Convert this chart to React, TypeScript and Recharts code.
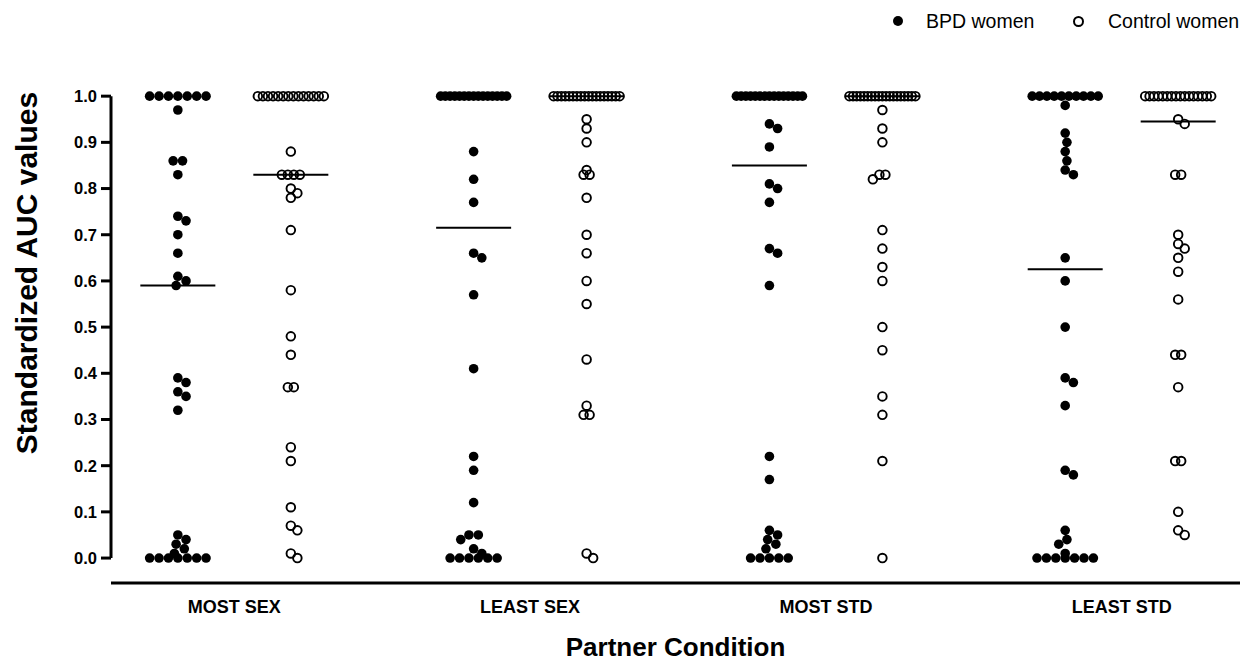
import { ScatterChart, Scatter, XAxis, YAxis, ReferenceLine } from 'recharts'

const conditions = ['MOST SEX', 'LEAST SEX', 'MOST STD', 'LEAST STD']

const bpdMostSex = [1, 1, 1, 1, 1, 1, 1, 0.97, 0.86, 0.86, 0.83, 0.74, 0.73, 0.7, 0.66, 0.61, 0.6, 0.59, 0.39, 0.38, 0.36, 0.35, 0.32, 0.05, 0.04, 0.03, 0.02, 0.01, 0, 0, 0, 0, 0, 0, 0]
const controlMostSex = [1, 1, 1, 1, 1, 1, 1, 1, 1, 1, 1, 1, 1, 1, 0.88, 0.83, 0.83, 0.83, 0.83, 0.8, 0.79, 0.78, 0.71, 0.58, 0.48, 0.44, 0.37, 0.37, 0.24, 0.21, 0.11, 0.07, 0.06, 0.01, 0]
const bpdLeastSex = [1, 1, 1, 1, 1, 1, 1, 1, 1, 1, 1, 1, 1, 1, 1, 0.88, 0.82, 0.77, 0.66, 0.65, 0.57, 0.41, 0.22, 0.19, 0.12, 0.05, 0.05, 0.04, 0.02, 0.01, 0, 0, 0, 0, 0, 0]
const controlLeastSex = [1, 1, 1, 1, 1, 1, 1, 1, 1, 1, 1, 1, 1, 1, 1, 1, 1, 1, 0.95, 0.93, 0.9, 0.84, 0.83, 0.83, 0.78, 0.7, 0.66, 0.6, 0.55, 0.43, 0.33, 0.31, 0.31, 0.01, 0]
const bpdMostStd = [1, 1, 1, 1, 1, 1, 1, 1, 1, 1, 1, 1, 1, 1, 1, 0.94, 0.93, 0.89, 0.81, 0.8, 0.77, 0.67, 0.66, 0.59, 0.22, 0.17, 0.06, 0.05, 0.04, 0.03, 0.02, 0, 0, 0, 0, 0]
const controlMostStd = [1, 1, 1, 1, 1, 1, 1, 1, 1, 1, 1, 1, 1, 1, 1, 1, 1, 1, 1, 0.97, 0.93, 0.9, 0.83, 0.83, 0.82, 0.71, 0.67, 0.63, 0.6, 0.5, 0.45, 0.35, 0.31, 0.21, 0]
const bpdLeastStd = [1, 1, 1, 1, 1, 1, 1, 1, 1, 1, 0.98, 0.92, 0.9, 0.88, 0.86, 0.84, 0.83, 0.65, 0.6, 0.5, 0.39, 0.38, 0.33, 0.19, 0.18, 0.06, 0.04, 0.03, 0.01, 0, 0, 0, 0, 0, 0, 0]
const controlLeastStd = [1, 1, 1, 1, 1, 1, 1, 1, 1, 1, 1, 1, 1, 1, 1, 1, 0.95, 0.94, 0.83, 0.83, 0.7, 0.68, 0.67, 0.65, 0.62, 0.56, 0.44, 0.44, 0.37, 0.21, 0.21, 0.1, 0.06, 0.05]

const bpdGroups = [bpdMostSex, bpdLeastSex, bpdMostStd, bpdLeastStd]
const controlGroups = [controlMostSex, controlLeastSex, controlMostStd, controlLeastStd]

const yTicks = [0, 0.1, 0.2, 0.3, 0.4, 0.5, 0.6, 0.7, 0.8, 0.9, 1.0]

// chart geometry
const W = 1246
const H = 664
const M_TOP = 86
const M_RIGHT = 6
const Y_AXIS_W = 111
const X_AXIS_H = 81
const X_MIN = -0.417
const X_MAX = 3.4
const Y_MIN = -0.054
const Y_MAX = 1.022
const PX_PER_X = (W - Y_AXIS_W - M_RIGHT) / (X_MAX - X_MIN)
const PX_PER_Y = (H - M_TOP - X_AXIS_H) / (Y_MAX - Y_MIN)
const SERIES_SHIFT = 0.191
const MEDIAN_HALF_PX = 37.5
const MAX_ROW_HALF_PX = 33

const FONT = '"Liberation Sans", Arial, sans-serif'

// simple beeswarm: ties spread in a row, singles take the nearest free slot to the centre
function swarm(values: number[], gap: number, tieStep: number): number[] {
  const order = values.map((_, i) => i).sort((a, b) => values[b] - values[a])
  const placed: { x: number; y: number }[] = []
  const out = new Array(values.length).fill(0)
  let k = 0
  while (k < order.length) {
    let j = k
    while (j < order.length && values[order[j]] === values[order[k]]) j++
    const n = j - k
    const yPx = values[order[k]] * PX_PER_Y
    if (n > 1) {
      const step = Math.min(tieStep, (2 * MAX_ROW_HALF_PX) / (n - 1))
      for (let t = 0; t < n; t++) {
        const x = (t - (n - 1) / 2) * step
        out[order[k + t]] = x
        placed.push({ x, y: yPx })
      }
    } else {
      const cands = [0]
      for (const p of placed) {
        const dy = Math.abs(p.y - yPx)
        if (dy < gap) {
          const dx = Math.sqrt(gap * gap - dy * dy)
          cands.push(p.x + dx, p.x - dx)
        }
      }
      cands.sort((a, b) => Math.abs(a) - Math.abs(b))
      const x = cands.find((c) => placed.every((p) => Math.hypot(p.x - c, p.y - yPx) >= gap - 1e-6)) ?? 0
      out[order[k]] = x
      placed.push({ x, y: yPx })
    }
    k = j
  }
  return out
}

function median(values: number[]) {
  const s = [...values].sort((a, b) => a - b)
  const m = Math.floor(s.length / 2)
  return s.length % 2 ? s[m] : (s[m - 1] + s[m]) / 2
}

function buildPoints(groups: number[][], shift: number, gap: number, tieStep: number) {
  return groups.flatMap((vals, gi) => {
    const offs = swarm(vals, gap, tieStep)
    return vals.map((v, i) => ({ x: gi + shift + offs[i] / PX_PER_X, y: v }))
  })
}

const bpdPoints = buildPoints(bpdGroups, -SERIES_SHIFT, 9.4, 9.4)
const controlPoints = buildPoints(controlGroups, SERIES_SHIFT, 8, 6)

const medianLines = [
  ...bpdGroups.map((g, gi) => ({ c: gi - SERIES_SHIFT, m: median(g) })),
  ...controlGroups.map((g, gi) => ({ c: gi + SERIES_SHIFT, m: median(g) })),
]

const FilledDot = (props: any) => <circle cx={props.cx} cy={props.cy} r={4.8} fill="#000" />
const OpenDot = (props: any) => (
  <circle cx={props.cx} cy={props.cy} r={4.3} fill="none" stroke="#000" strokeWidth={1.9} />
)

export default function App() {
  const h = MEDIAN_HALF_PX / PX_PER_X
  return (
    <div style={{ position: 'relative', width: W, height: H, background: '#fff', fontFamily: FONT }}>
      <style>{'body{margin:0}'}</style>
      <ScatterChart width={W} height={H} margin={{ top: M_TOP, right: M_RIGHT, bottom: 0, left: 0 }}>
        <XAxis
          type="number"
          dataKey="x"
          domain={[X_MIN, X_MAX]}
          ticks={[0, 1, 2, 3]}
          tickFormatter={(i) => conditions[i]}
          allowDataOverflow
          height={X_AXIS_H}
          axisLine={{ stroke: '#000', strokeWidth: 3 }}
          tickLine={false}
          tickSize={8}
          tickMargin={9}
          tick={{ fill: '#000', fontSize: 18, fontWeight: 700, fontFamily: FONT }}
          label={{
            value: 'Partner Condition',
            position: 'insideBottom',
            offset: 8,
            style: { fill: '#000', fontSize: 26, fontWeight: 700, fontFamily: FONT },
          }}
        />
        <YAxis
          type="number"
          dataKey="y"
          domain={[Y_MIN, Y_MAX]}
          ticks={yTicks}
          tickFormatter={(v) => v.toFixed(1)}
          allowDataOverflow
          width={Y_AXIS_W}
          axisLine={false}
          tickLine={{ stroke: '#000', strokeWidth: 3 }}
          tickSize={10}
          tickMargin={4}
          tick={{ fill: '#000', fontSize: 16.5, fontWeight: 700, fontFamily: FONT }}
        />
        <ReferenceLine
          segment={[{ x: X_MIN, y: 0 }, { x: X_MIN, y: 1 }]}
          stroke="#000"
          strokeWidth={3}
        />
        {medianLines.map((l, i) => (
          <ReferenceLine
            key={i}
            segment={[{ x: l.c - h, y: l.m }, { x: l.c + h, y: l.m }]}
            stroke="#000"
            strokeWidth={2}
          />
        ))}
        <Scatter name="BPD women" data={bpdPoints} shape={FilledDot} isAnimationActive={false} />
        <Scatter name="Control women" data={controlPoints} shape={OpenDot} isAnimationActive={false} />
      </ScatterChart>

      <div
        style={{
          position: 'absolute',
          left: 27,
          top: 273,
          transform: 'translate(-50%, -50%) rotate(-90deg)',
          whiteSpace: 'nowrap',
          fontSize: 30,
          fontWeight: 700,
          color: '#000',
        }}
      >
        Standardized AUC values
      </div>

      <div style={{ position: 'absolute', left: 893, top: 16, width: 10, height: 10, borderRadius: '50%', background: '#000' }} />
      <div style={{ position: 'absolute', left: 926, top: 10, fontSize: 19.5, lineHeight: '22px', color: '#000' }}>BPD women</div>
      <div
        style={{
          position: 'absolute',
          left: 1073,
          top: 16,
          width: 7,
          height: 7,
          borderRadius: '50%',
          border: '2px solid #000',
        }}
      />
      <div style={{ position: 'absolute', left: 1108, top: 10, fontSize: 19.5, lineHeight: '22px', color: '#000' }}>Control women</div>
    </div>
  )
}
